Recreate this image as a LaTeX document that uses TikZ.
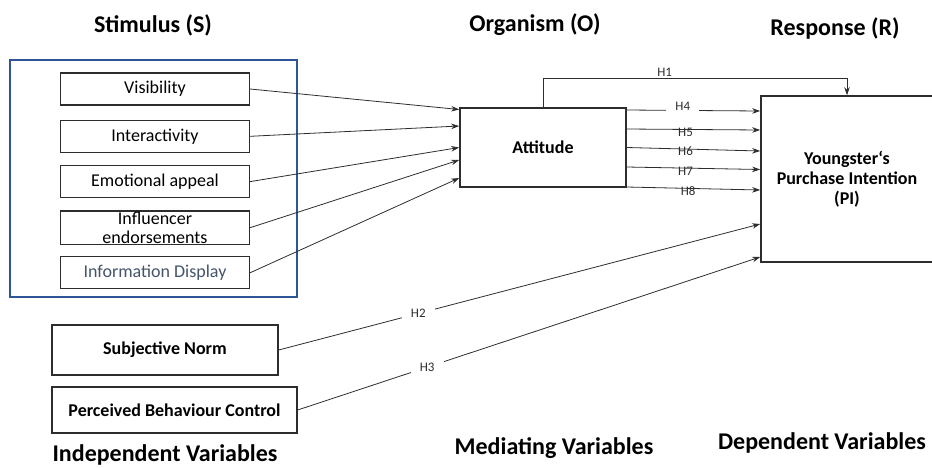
\documentclass[tikz,border=0pt]{standalone}
\usepackage{fontspec}
\setmainfont{Carlito}
\usepackage{xcolor}
\usepackage{tikz}
\usetikzlibrary{arrows.meta,positioning}
\definecolor{sorblue}{RGB}{47,85,151}
\definecolor{sorline}{RGB}{45,45,45}
\definecolor{sorslate}{RGB}{68,84,106}

\begin{document}
\begin{tikzpicture}[x=1pt, y=-1pt, node distance=12pt]
    \tikzstyle{title} = [font=\fontsize{24}{28}\selectfont\bfseries]
    \tikzstyle{stim} = [rectangle, draw=sorline, line width=1.3pt, minimum width=189pt, minimum height=32pt, inner sep=1pt, text centered, align=center, font=\fontsize{18}{19}\selectfont]
    \tikzstyle{var} = [rectangle, draw=sorline, line width=1.3pt, inner sep=1pt, text centered, align=center, font=\fontsize{18}{20}\selectfont\bfseries]
    \tikzstyle{arrow} = [line width=0.8pt, sorline, -{Stealth[length=8pt,width=5.5pt]}]
    \tikzstyle{hyp} = [font=\fontsize{13}{14}\selectfont, inner sep=1pt]
    \tikzstyle{gap} = [fill=white, inner xsep=9pt, inner ysep=2pt]

    \useasboundingbox (0,0) rectangle (932,467);

    % headings
    \node (stimS) [title] at (153,25) {Stimulus (S)};
    \node (orgO) [title] at (535,25) {Organism (O)};
    \node (resR) [title] at (835,28) {Response (R)};
    \node (indep) [title] at (165,455) {Independent Variables};
    \node (medi) [title] at (554,448) {Mediating Variables};
    \node (dep) [title] at (822,443) {Dependent Variables};

    % stimulus block
    \draw [sorblue, line width=2pt] (10,60) rectangle (297,297);
    \node (vis) [stim] at (155,89) {Visibility};
    \node (inter) [stim, below=14pt of vis] {Interactivity};
    \node (emo) [stim, below=12pt of inter] {Emotional appeal};
    \node (infl) [stim, below=12pt of emo] {Influencer\\endorsements};
    \node (info) [stim, below=11pt of infl, text=sorslate] {Information Display};

    % other constructs
    \node (sn) [var, minimum width=226pt, minimum height=50pt] at (165,350) {Subjective Norm};
    \node (pbc) [var, minimum width=245pt, minimum height=46pt] at (174.5,410) {Perceived Behaviour Control};
    \node (att) [var, minimum width=166pt, minimum height=79pt, line width=1.6pt] at (543,147.5) {Attitude};
    \node (pi) [var, minimum width=172pt, minimum height=166pt, line width=1.6pt] at (847,179) {Youngster‘s\\Purchase Intention\\(PI)};

    % S -> O
    \draw [arrow] (vis.east) -- ([yshift=38pt]att.west);
    \draw [arrow] (inter.east) -- ([yshift=21.5pt]att.west);
    \draw [arrow] (emo.east) -- (att.west);
    \draw [arrow] (infl.east) -- ([yshift=-12.5pt]att.west);
    \draw [arrow] (info.east) -- ([yshift=-30.5pt]att.west);

    % O -> R
    \draw [arrow] (att.north) |- node[hyp, pos=0.7, above] {H1} ([yshift=17pt]pi.north) -- (pi.north);
    \draw [arrow] ([yshift=37.5pt]att.east) -- node[hyp, gap, pos=0.42, yshift=4pt] {H4} ([yshift=68pt]pi.west);
    \draw [arrow] ([yshift=18.5pt]att.east) -- node[hyp, pos=0.44, yshift=-2.5pt] {H5} ([yshift=49pt]pi.west);
    \draw [arrow] (att.east) -- node[hyp, pos=0.44, yshift=-2pt] {H6} ([yshift=28pt]pi.west);
    \draw [arrow] ([yshift=-19.5pt]att.east) -- node[hyp, pos=0.44, yshift=-3pt] {H7} ([yshift=9.5pt]pi.west);
    \draw [arrow] ([yshift=-39.5pt]att.east) -- node[hyp, pos=0.46, yshift=-2.5pt] {H8} ([yshift=-11pt]pi.west);

    % direct effects
    \draw [arrow] (sn.east) -- node[hyp, gap, pos=0.29] {H2} ([yshift=-45pt]pi.west);
    \draw [arrow] (pbc.east) -- node[hyp, gap, pos=0.28] {H3} ([yshift=-78pt]pi.west);
\end{tikzpicture}
\end{document}
